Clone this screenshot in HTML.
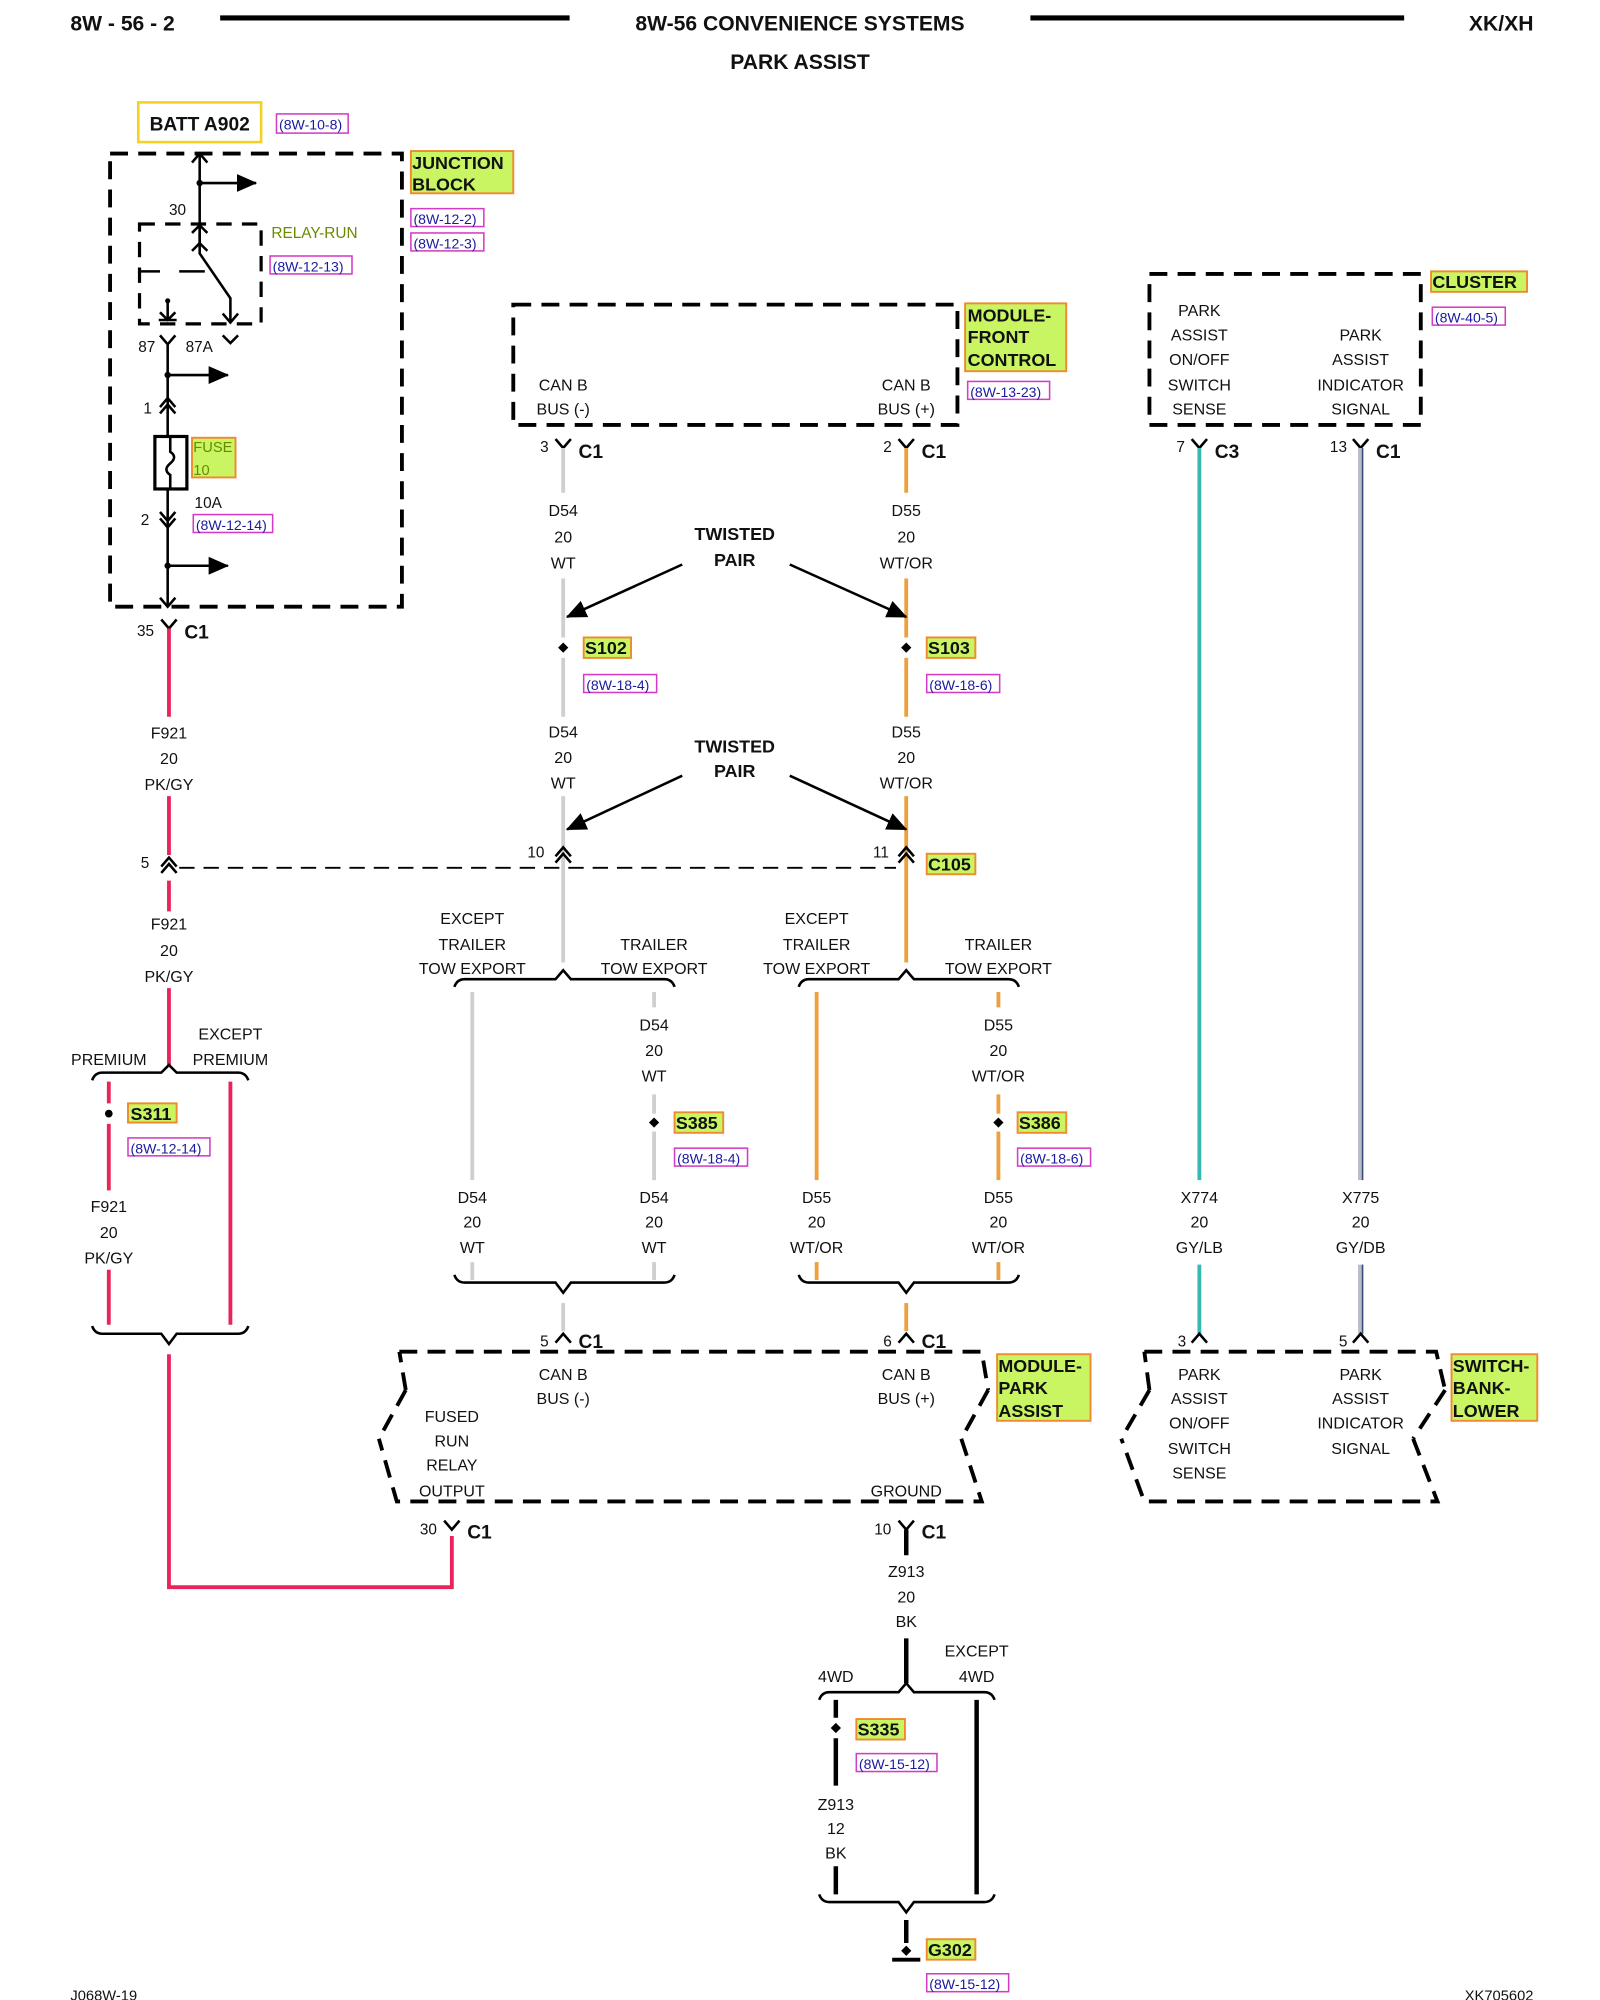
<!DOCTYPE html>
<html><head><meta charset="utf-8"><style>
html,body{margin:0;padding:0;background:#fff;width:1600px;height:2000px;overflow:hidden}
svg{display:block}
text{font-family:"Liberation Sans",Arial,sans-serif;fill:#111}
.t{font-size:12.5px;text-anchor:middle}
.b{font-weight:bold}
.c{font-size:15px;font-weight:bold}
.r{font-size:11px;fill:#1a1aa0}
.box{fill:none;stroke:#000;stroke-width:3;stroke-dasharray:14 8}
.w{fill:none;stroke:#000;stroke-width:2}
.lbl{fill:#c9f562;stroke:#f08a30;stroke-width:1.5}
.rb{fill:none;stroke:#d33cc4;stroke-width:1.2}
</style></head><body>
<svg width="1600" height="2000" viewBox="0 0 1250 1562.5" preserveAspectRatio="none">
<defs>
<marker id="ar2" markerWidth="16" markerHeight="14" refX="15" refY="7" orient="auto" markerUnits="userSpaceOnUse"><path d="M0,0 L16,7 L0,14 z" fill="#000"/></marker>
</defs>
<!-- header -->
<text x="55" y="24" style="font-size:16.5px;font-weight:bold">8W - 56 - 2</text>
<line x1="172" y1="14" x2="445" y2="14" stroke="#000" stroke-width="4"/>
<text x="625" y="24" class="t b" style="font-size:16.5px">8W-56 CONVENIENCE SYSTEMS</text>
<line x1="805" y1="14" x2="1097" y2="14" stroke="#000" stroke-width="4"/>
<text x="1198" y="24" style="font-size:16.5px;font-weight:bold;text-anchor:end">XK/XH</text>
<text x="625" y="54" class="t b" style="font-size:16.5px">PARK ASSIST</text>

<!-- BATT -->
<rect x="108" y="80" width="96" height="31" fill="#fff" stroke="#f5d020" stroke-width="2"/>
<text x="156" y="102" class="t b" style="font-size:15px">BATT A902</text>
<rect x="216" y="89" width="56" height="15" class="rb"/><text x="218" y="101" class="r">(8W-10-8)</text>

<!-- junction block -->
<rect x="86" y="120" width="228" height="354" class="box"/>
<rect x="321" y="118" width="80" height="33" class="lbl"/>
<text x="322" y="132" class="b" style="font-size:14px">JUNCTION</text><text x="322" y="149" class="b" style="font-size:14px">BLOCK</text>
<rect x="321" y="163" width="57" height="14" class="rb"/><text x="323" y="175" class="r">(8W-12-2)</text>
<rect x="321" y="182" width="57" height="14" class="rb"/><text x="323" y="194" class="r">(8W-12-3)</text>
<line x1="156" y1="120" x2="156" y2="190" class="w"/>
<path d="M150,127 L156,120 L162,127 M150,196 L156,190 L162,196" class="w"/>
<line x1="156" y1="143" x2="200" y2="143" class="w" marker-end="url(#ar2)"/>
<circle cx="156" cy="143" r="2.5"/>
<text x="132" y="168" style="font-size:12px">30</text>
<rect x="109" y="175" width="95" height="78" class="box" style="stroke-width:2.5;stroke-dasharray:12 8"/>
<path d="M156,176 L156,198 L180,233 L180,252" class="w"/>
<path d="M150,182 L156,176 L162,182 M174,245 L180,252 L186,245" class="w"/>
<path d="M110,212 L125,212 M140,212 L160,212" class="w"/>
<path d="M131,235 L131,250 M124,250 L138,250 M125,244 L131,250 L137,244" class="w"/>
<circle cx="131" cy="235" r="2"/>
<text x="212" y="186" style="font-size:12px;fill:#6a8a00">RELAY-RUN</text>
<rect x="211" y="200" width="64" height="14" class="rb"/><text x="213" y="212" class="r">(8W-12-13)</text>
<path d="M125,262 L131,269 L137,262 M174,262 L180,268 L186,262" class="w"/>
<text x="108" y="275" style="font-size:12px">87</text><text x="145" y="275" style="font-size:12px">87A</text>
<line x1="131" y1="269" x2="131" y2="474" class="w"/>
<line x1="131" y1="293" x2="178" y2="293" class="w" marker-end="url(#ar2)"/><circle cx="131" cy="293" r="2.5"/>
<path d="M125,318 L131,311 L137,318 M125,323 L131,316 L137,323" class="w"/>
<text x="112" y="323" style="font-size:12px">1</text>
<rect x="121" y="341" width="25" height="41" fill="#fff" stroke="#000" stroke-width="2.5"/>
<path d="M133,341 L133,353 Q139,357 133,362 Q127,367 133,371 L133,382" class="w"/>
<rect x="150" y="342" width="34" height="31" class="lbl"/>
<text x="151" y="353" style="font-size:11.5px;fill:#6a8a00">FUSE</text><text x="151" y="371" style="font-size:11.5px;fill:#6a8a00">10</text>
<text x="152" y="397" style="font-size:12px">10A</text>
<rect x="151" y="402" width="62" height="14" class="rb"/><text x="153" y="414" class="r">(8W-12-14)</text>
<path d="M125,400 L131,407 L137,400 M125,405 L131,412 L137,405" class="w"/>
<text x="110" y="410" style="font-size:12px">2</text>
<line x1="131" y1="442" x2="178" y2="442" class="w" marker-end="url(#ar2)"/><circle cx="131" cy="442" r="2.5"/>
<path d="M125,467 L131,474 L137,467" class="w"/>
<path d="M126,484 L132,491 L138,484 M132,491 L132,500" class="w"/>
<text x="107" y="497" style="font-size:12px">35</text><text x="144" y="499" class="c">C1</text>

<!-- pink wire -->
<g stroke="#e8245a" stroke-width="3" fill="none">
<path d="M132,491 L132,560 M132,622 L132,668 M132,688 L132,712 M132,772 L132,832"/>
<path d="M85,845 L85,862 M85,878 L85,930 M85,992 L85,1035"/>
<path d="M180,845 L180,1035"/>
<path d="M132,1058 L132,1240 L353,1240 L353,1200"/>
</g>
<text x="132" y="577" class="t">F921</text><text x="132" y="597" class="t">20</text><text x="132" y="617" class="t">PK/GY</text>
<path d="M126,677 L132,670 L138,677 M126,682 L132,675 L138,682" class="w"/>
<text x="110" y="678" style="font-size:12px">5</text>
<line x1="140" y1="678" x2="700" y2="678" stroke="#000" stroke-width="1.5" stroke-dasharray="12 7"/>
<text x="132" y="726" class="t">F921</text><text x="132" y="747" class="t">20</text><text x="132" y="767" class="t">PK/GY</text>
<text x="85" y="832" class="t">PREMIUM</text>
<text x="180" y="812" class="t">EXCEPT</text><text x="180" y="832" class="t">PREMIUM</text>
<path d="M72,844 Q74,838 80,838 L126,838 L132,832 L138,838 L186,838 Q192,838 194,844" class="w" stroke-width="1.8"/>
<circle cx="85" cy="870" r="3"/>
<rect x="100" y="862" width="38" height="15" class="lbl"/><text x="102" y="875" class="b" style="font-size:14px">S311</text>
<rect x="100" y="889" width="64" height="14" class="rb"/><text x="102" y="901" class="r">(8W-12-14)</text>
<text x="85" y="947" class="t">F921</text><text x="85" y="967" class="t">20</text><text x="85" y="987" class="t">PK/GY</text>
<path d="M72,1036 Q74,1042 80,1042 L126,1042 L132,1050 L138,1042 L186,1042 Q192,1042 194,1036" class="w" stroke-width="1.8"/>

<!-- front control module -->
<rect x="401" y="238" width="347" height="94" class="box"/>
<text x="440" y="305" class="t">CAN B</text><text x="440" y="324" class="t">BUS (-)</text>
<text x="708" y="305" class="t">CAN B</text><text x="708" y="324" class="t">BUS (+)</text>
<rect x="754" y="237" width="79" height="53" class="lbl"/>
<text x="756" y="251" class="b" style="font-size:14px">MODULE-</text><text x="756" y="268" class="b" style="font-size:14px">FRONT</text><text x="756" y="286" class="b" style="font-size:14px">CONTROL</text>
<rect x="756" y="298" width="64" height="14" class="rb"/><text x="758" y="310" class="r">(8W-13-23)</text>
<path d="M434,343 L440,350 L446,343 M702,343 L708,350 L714,343" class="w"/>
<text x="422" y="353" style="font-size:12px">3</text><text x="452" y="358" class="c">C1</text>
<text x="690" y="353" style="font-size:12px">2</text><text x="720" y="358" class="c">C1</text>

<!-- gray wire D54 -->
<g stroke="#cfcfcf" stroke-width="3" fill="none">
<path d="M440,350 L440,385 M440,452 L440,498 M440,514 L440,560 M440,622 L440,752"/>
<path d="M369,775 L369,922 M369,986 L369,1000 M511,775 L511,787 M511,855 L511,870 M511,884 L511,922 M511,986 L511,1000"/>
<path d="M440,1018 L440,1040"/>
</g>
<g stroke="#eda040" stroke-width="3" fill="none">
<path d="M708,350 L708,385 M708,452 L708,498 M708,514 L708,560 M708,622 L708,752"/>
<path d="M638,775 L638,922 M638,986 L638,1000 M780,775 L780,787 M780,855 L780,870 M780,884 L780,922 M780,986 L780,1000"/>
<path d="M708,1018 L708,1040"/>
</g>
<text x="440" y="403" class="t">D54</text><text x="440" y="424" class="t">20</text><text x="440" y="444" class="t">WT</text>
<text x="708" y="403" class="t">D55</text><text x="708" y="424" class="t">20</text><text x="708" y="444" class="t">WT/OR</text>
<text x="574" y="422" class="t b" style="font-size:14px">TWISTED</text><text x="574" y="442" class="t b" style="font-size:14px">PAIR</text>
<line x1="533" y1="441" x2="443" y2="482" stroke="#000" stroke-width="2" marker-end="url(#ar2)"/>
<line x1="617" y1="441" x2="708" y2="482" stroke="#000" stroke-width="2" marker-end="url(#ar2)"/>
<path d="M440,502 L444,506 L440,510 L436,506 z M708,502 L712,506 L708,510 L704,506 z"/>
<rect x="456" y="498" width="37" height="16" class="lbl"/><text x="457" y="511" class="b" style="font-size:14px">S102</text>
<rect x="456" y="527" width="57" height="14" class="rb"/><text x="458" y="539" class="r">(8W-18-4)</text>
<rect x="724" y="498" width="38" height="16" class="lbl"/><text x="725" y="511" class="b" style="font-size:14px">S103</text>
<rect x="724" y="527" width="57" height="14" class="rb"/><text x="726" y="539" class="r">(8W-18-6)</text>
<text x="440" y="576" class="t">D54</text><text x="440" y="596" class="t">20</text><text x="440" y="616" class="t">WT</text>
<text x="708" y="576" class="t">D55</text><text x="708" y="596" class="t">20</text><text x="708" y="616" class="t">WT/OR</text>
<text x="574" y="588" class="t b" style="font-size:14px">TWISTED</text><text x="574" y="607" class="t b" style="font-size:14px">PAIR</text>
<line x1="533" y1="606" x2="443" y2="648" stroke="#000" stroke-width="2" marker-end="url(#ar2)"/>
<line x1="617" y1="606" x2="708" y2="648" stroke="#000" stroke-width="2" marker-end="url(#ar2)"/>
<path d="M434,669 L440,662 L446,669 M434,674 L440,667 L446,674 M702,669 L708,662 L714,669 M702,674 L708,667 L714,674" class="w"/>
<text x="412" y="670" style="font-size:12px">10</text><text x="682" y="670" style="font-size:12px">11</text>
<rect x="724" y="667" width="38" height="16" class="lbl"/><text x="725" y="680" class="b" style="font-size:14px">C105</text>

<text x="369" y="722" class="t">EXCEPT</text><text x="369" y="742" class="t">TRAILER</text><text x="369" y="761" class="t">TOW EXPORT</text>
<text x="511" y="742" class="t">TRAILER</text><text x="511" y="761" class="t">TOW EXPORT</text>
<text x="638" y="722" class="t">EXCEPT</text><text x="638" y="742" class="t">TRAILER</text><text x="638" y="761" class="t">TOW EXPORT</text>
<text x="780" y="742" class="t">TRAILER</text><text x="780" y="761" class="t">TOW EXPORT</text>
<path d="M355,771 Q357,765 363,765 L434,765 L440,758 L446,765 L519,765 Q525,765 527,771" class="w" stroke-width="1.8"/>
<path d="M624,771 Q626,765 632,765 L702,765 L708,758 L714,765 L788,765 Q794,765 796,771" class="w" stroke-width="1.8"/>
<text x="511" y="805" class="t">D54</text><text x="511" y="825" class="t">20</text><text x="511" y="845" class="t">WT</text>
<text x="780" y="805" class="t">D55</text><text x="780" y="825" class="t">20</text><text x="780" y="845" class="t">WT/OR</text>
<path d="M511,873 L515,877 L511,881 L507,877 z M780,873 L784,877 L780,881 L776,877 z"/>
<rect x="527" y="869" width="38" height="16" class="lbl"/><text x="528" y="882" class="b" style="font-size:14px">S385</text>
<rect x="527" y="897" width="57" height="14" class="rb"/><text x="529" y="909" class="r">(8W-18-4)</text>
<rect x="795" y="869" width="38" height="16" class="lbl"/><text x="796" y="882" class="b" style="font-size:14px">S386</text>
<rect x="795" y="897" width="57" height="14" class="rb"/><text x="797" y="909" class="r">(8W-18-6)</text>
<text x="369" y="940" class="t">D54</text><text x="369" y="959" class="t">20</text><text x="369" y="979" class="t">WT</text>
<text x="511" y="940" class="t">D54</text><text x="511" y="959" class="t">20</text><text x="511" y="979" class="t">WT</text>
<text x="638" y="940" class="t">D55</text><text x="638" y="959" class="t">20</text><text x="638" y="979" class="t">WT/OR</text>
<text x="780" y="940" class="t">D55</text><text x="780" y="959" class="t">20</text><text x="780" y="979" class="t">WT/OR</text>
<path d="M355,996 Q357,1002 363,1002 L434,1002 L440,1010 L446,1002 L519,1002 Q525,1002 527,996" class="w" stroke-width="1.8"/>
<path d="M624,996 Q626,1002 632,1002 L702,1002 L708,1010 L714,1002 L788,1002 Q794,1002 796,996" class="w" stroke-width="1.8"/>
<path d="M434,1049 L440,1042 L446,1049 M702,1049 L708,1042 L714,1049" class="w"/>
<text x="422" y="1052" style="font-size:12px">5</text><text x="452" y="1053" class="c">C1</text>
<text x="690" y="1052" style="font-size:12px">6</text><text x="720" y="1053" class="c">C1</text>

<!-- module park assist -->
<path d="M312,1056 L767,1056 L772,1086 M751,1124 L767,1173 L310,1173 L296,1124 M317,1086 L312,1056" class="box"/>
<path d="M317,1086 L296,1124 M772,1086 L751,1124" class="box"/>
<text x="440" y="1078" class="t">CAN B</text><text x="440" y="1097" class="t">BUS (-)</text>
<text x="708" y="1078" class="t">CAN B</text><text x="708" y="1097" class="t">BUS (+)</text>
<text x="353" y="1111" class="t">FUSED</text><text x="353" y="1130" class="t">RUN</text><text x="353" y="1149" class="t">RELAY</text><text x="353" y="1169" class="t">OUTPUT</text>
<text x="708" y="1169" class="t">GROUND</text>
<rect x="779" y="1058" width="73" height="52" class="lbl"/>
<text x="780" y="1072" class="b" style="font-size:14px">MODULE-</text><text x="780" y="1089" class="b" style="font-size:14px">PARK</text><text x="780" y="1107" class="b" style="font-size:14px">ASSIST</text>
<path d="M347,1188 L353,1195 L359,1188 M702,1188 L708,1195 L714,1188" class="w"/>
<text x="328" y="1199" style="font-size:12px">30</text><text x="365" y="1202" class="c">C1</text>
<text x="683" y="1199" style="font-size:12px">10</text><text x="720" y="1202" class="c">C1</text>
<g stroke="#000" stroke-width="3.5" fill="none">
<path d="M708,1195 L708,1215 M708,1280 L708,1315"/>
<path d="M653,1328 L653,1342 M653,1358 L653,1395 M653,1458 L653,1480 M763,1328 L763,1480 M708,1500 L708,1518"/>
</g>
<text x="708" y="1232" class="t">Z913</text><text x="708" y="1252" class="t">20</text><text x="708" y="1271" class="t">BK</text>
<text x="653" y="1314" class="t">4WD</text>
<text x="763" y="1294" class="t">EXCEPT</text><text x="763" y="1314" class="t">4WD</text>
<path d="M640,1328 Q642,1322 648,1322 L702,1322 L708,1315 L714,1322 L769,1322 Q775,1322 777,1328" class="w" stroke-width="1.8"/>
<path d="M653,1346 L657,1350 L653,1354 L649,1350 z"/>
<rect x="669" y="1343" width="38" height="16" class="lbl"/><text x="670" y="1356" class="b" style="font-size:14px">S335</text>
<rect x="669" y="1370" width="63" height="14" class="rb"/><text x="671" y="1382" class="r">(8W-15-12)</text>
<text x="653" y="1414" class="t">Z913</text><text x="653" y="1433" class="t">12</text><text x="653" y="1452" class="t">BK</text>
<path d="M640,1480 Q642,1486 648,1486 L702,1486 L708,1494 L714,1486 L769,1486 Q775,1486 777,1480" class="w" stroke-width="1.8"/>
<path d="M708,1520 L712,1524 L708,1528 L704,1524 z"/>
<line x1="697" y1="1531" x2="719" y2="1531" stroke="#000" stroke-width="3"/>
<rect x="724" y="1515" width="38" height="16" class="lbl"/><text x="725" y="1528" class="b" style="font-size:14px">G302</text>
<rect x="724" y="1542" width="64" height="14" class="rb"/><text x="726" y="1554" class="r">(8W-15-12)</text>

<!-- cluster -->
<rect x="898" y="214" width="212" height="118" class="box"/>
<rect x="1118" y="212" width="75" height="16" class="lbl"/><text x="1119" y="225" class="b" style="font-size:14px">CLUSTER</text>
<rect x="1119" y="240" width="57" height="14" class="rb"/><text x="1121" y="252" class="r">(8W-40-5)</text>
<text x="937" y="247" class="t">PARK</text><text x="937" y="266" class="t">ASSIST</text><text x="937" y="285" class="t">ON/OFF</text><text x="937" y="305" class="t">SWITCH</text><text x="937" y="324" class="t">SENSE</text>
<text x="1063" y="266" class="t">PARK</text><text x="1063" y="285" class="t">ASSIST</text><text x="1063" y="305" class="t">INDICATOR</text><text x="1063" y="324" class="t">SIGNAL</text>
<path d="M931,343 L937,350 L943,343 M1057,343 L1063,350 L1069,343" class="w"/>
<text x="919" y="353" style="font-size:12px">7</text><text x="949" y="358" class="c">C3</text>
<text x="1039" y="353" style="font-size:12px">13</text><text x="1075" y="358" class="c">C1</text>
<g fill="none">
<path d="M937,350 L937,922 M937,988 L937,1042" stroke="#36b8b4" stroke-width="3"/>
<path d="M1063,350 L1063,922 M1063,988 L1063,1042" stroke="#b8bcc8" stroke-width="4"/>
<path d="M1064.5,350 L1064.5,922 M1064.5,988 L1064.5,1042" stroke="#3a4a78" stroke-width="1.2"/>
</g>
<text x="937" y="940" class="t">X774</text><text x="937" y="959" class="t">20</text><text x="937" y="979" class="t">GY/LB</text>
<text x="1063" y="940" class="t">X775</text><text x="1063" y="959" class="t">20</text><text x="1063" y="979" class="t">GY/DB</text>
<path d="M931,1049 L937,1042 L943,1049 M1057,1049 L1063,1042 L1069,1049" class="w"/>
<text x="920" y="1052" style="font-size:12px">3</text><text x="1046" y="1052" style="font-size:12px">5</text>
<path d="M894,1056 L1122,1056 L1129,1086 M1104,1124 L1123,1173 L894,1173 L876,1124 M898,1086 L894,1056" class="box"/>
<path d="M898,1086 L876,1124 M1129,1086 L1104,1124" class="box"/>
<text x="937" y="1078" class="t">PARK</text><text x="937" y="1097" class="t">ASSIST</text><text x="937" y="1116" class="t">ON/OFF</text><text x="937" y="1136" class="t">SWITCH</text><text x="937" y="1155" class="t">SENSE</text>
<text x="1063" y="1078" class="t">PARK</text><text x="1063" y="1097" class="t">ASSIST</text><text x="1063" y="1116" class="t">INDICATOR</text><text x="1063" y="1136" class="t">SIGNAL</text>
<rect x="1134" y="1058" width="67" height="52" class="lbl"/>
<text x="1135" y="1072" class="b" style="font-size:14px">SWITCH-</text><text x="1135" y="1089" class="b" style="font-size:14px">BANK-</text><text x="1135" y="1107" class="b" style="font-size:14px">LOWER</text>

<text x="55" y="1563" style="font-size:11.5px">J068W-19</text>
<text x="1198" y="1563" style="font-size:11.5px;text-anchor:end">XK705602</text>
</svg>
</body></html>
